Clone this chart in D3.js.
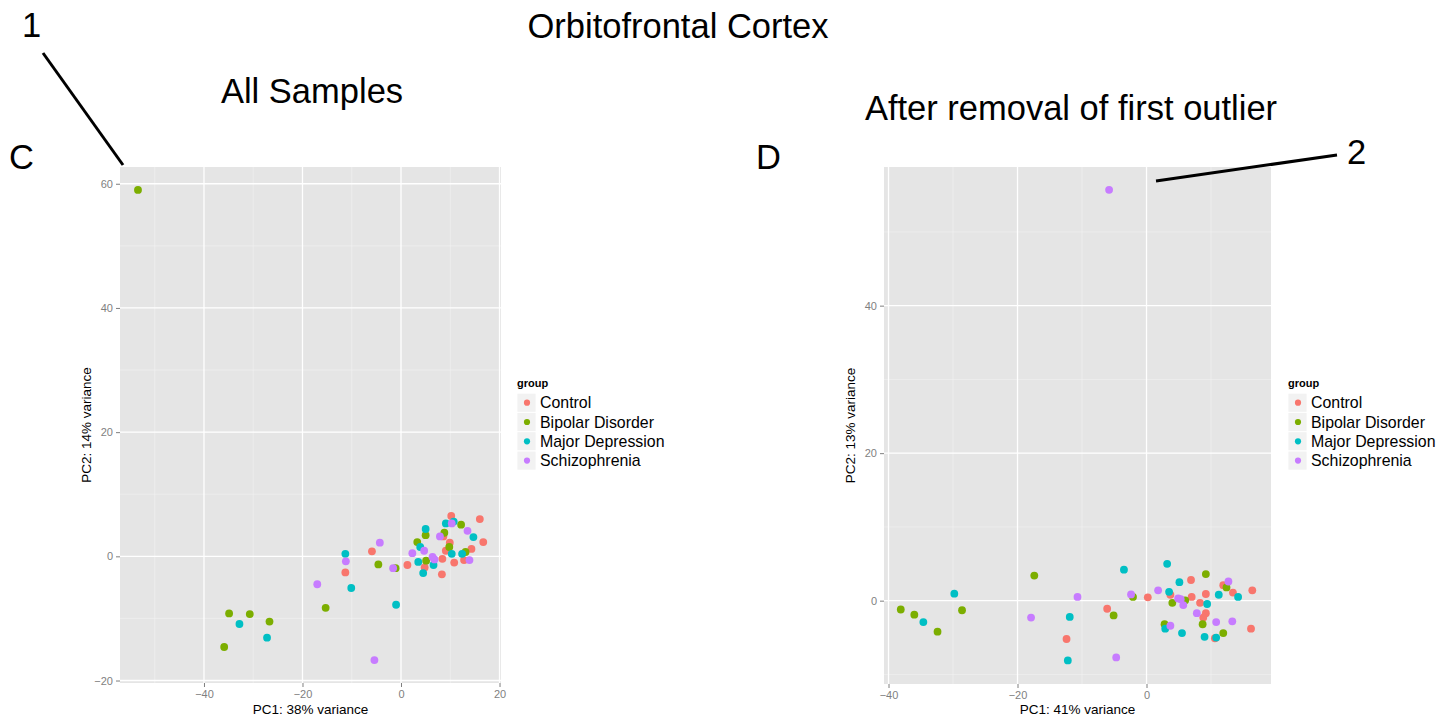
<!DOCTYPE html>
<html>
<head>
<meta charset="utf-8">
<script src="https://cdn.jsdelivr.net/npm/d3@7"></script>
<style>
  body { margin: 0; background: #fff; }
  svg { display: block; font-family: "Liberation Sans", Arial, Helvetica, sans-serif; }
  .tick text { fill: #7f7f7f; font-size: 11px; }
  .tick line { stroke: #7f7f7f; }
  .domain { display: none; }
</style>
</head>
<body>
<div id="chart"></div>
<script>
const width = 1454;
const height = 719;

const groups = ["Control", "Bipolar Disorder", "Major Depression", "Schizophrenia"];
const groupColors = ["#F8766D", "#7CAE00", "#00BFC4", "#C77CFF"];

// panel C: all samples  [PC1, PC2]
const allControl = [[-5.9, 0.8], [-11.3, -2.6], [1.3, -1.4], [4.8, -1.8], [8.4, -0.4], [8.3, -2.9], [8.6, 3.2], [9.9, 2.2], [9.1, 0.9], [10.8, -1.0], [10.2, 6.5], [16.0, 6.0], [16.7, 2.3], [14.3, 1.2], [12.8, -0.6]];
const allBipolar = [[-53.4, 59.0], [-34.9, -9.2], [-30.7, -9.3], [-26.7, -10.5], [-35.9, -14.6], [-15.3, -8.3], [-4.6, -1.3], [-1.1, -1.9], [3.3, 2.3], [5.0, 3.4], [5.1, -0.7], [8.8, 3.8], [9.8, 1.5], [12.2, 5.1], [13.1, 0.7]];
const allDepression = [[-32.8, -10.9], [-27.2, -13.1], [-10.1, -5.1], [-11.3, 0.4], [-1.0, -7.8], [3.9, 1.5], [5.0, 4.4], [3.5, -0.9], [4.5, -2.7], [6.6, -1.4], [10.3, 0.4], [9.1, 5.3], [10.7, 5.6], [14.7, 3.1], [12.4, 0.4]];
const allSchizo = [[-17.0, -4.5], [-11.2, -0.8], [-5.4, -16.7], [-4.3, 2.2], [-1.6, -1.9], [2.3, 0.5], [4.7, 0.9], [6.4, -0.1], [6.8, -0.5], [7.9, 3.2], [10.3, 5.3], [13.5, 4.1], [13.9, -0.6]];

// panel D: after removal of first outlier
const remControl = [[-12.4, -5.2], [-6.1, -1.1], [0.2, 0.45], [3.7, 0.8], [6.9, 2.8], [7.0, 0.5], [9.2, 0.9], [8.3, -0.3], [9.2, -1.7], [8.8, -2.3], [10.6, -5.1], [16.2, -3.8], [16.4, 1.4], [11.9, 2.1], [13.4, 1.1]];
const remBipolar = [[-38.1, -1.2], [-36.0, -1.9], [-32.4, -4.2], [-28.6, -1.3], [-17.4, 3.4], [-5.1, -2.0], [-2.1, 0.5], [9.2, 3.6], [4.0, -0.3], [6.0, 0.05], [8.7, -3.2], [2.8, -3.2], [11.9, -4.4], [12.4, 1.8]];
const remDepression = [[-34.6, -2.9], [-29.8, 0.95], [-11.9, -2.2], [-12.2, -8.1], [-3.5, 4.2], [3.2, 5.0], [3.5, 1.2], [5.1, 2.5], [9.4, -0.45], [2.9, -3.8], [5.5, -4.4], [9.0, -4.9], [10.8, -5.0], [11.2, 0.8], [14.2, 0.5]];
const remSchizo = [[-5.8, 55.7], [-17.9, -2.3], [-10.7, 0.5], [-4.7, -7.7], [-2.4, 0.85], [1.8, 1.4], [4.9, 0.3], [5.3, 0.2], [5.7, -0.6], [7.8, -1.7], [3.7, -3.4], [10.8, -2.9], [13.3, -2.8], [12.7, 2.6]];

const panelC = {
  series: [allControl, allBipolar, allDepression, allSchizo],
  xTicks: [-40, -20, 0, 20], xMinor: [-50, -30, -10, 10],
  yTicks: [-20, 0, 20, 40, 60], yMinor: [-10, 10, 30, 50],
  xDomain: [-57.05, 20.3], yDomain: [-20.4, 62.7],
  xLabel: "PC1: 38% variance", yLabel: "PC2: 14% variance",
  box: { left: 120, right: 501, top: 167, bottom: 683 },
  legendX: 517
};

const panelD = {
  series: [remControl, remBipolar, remDepression, remSchizo],
  xTicks: [-40, -20, 0], xMinor: [-30, -10, 10],
  yTicks: [0, 20, 40], yMinor: [-10, 10, 30, 50],
  xDomain: [-40.7, 19.3], yDomain: [-11.3, 58.8],
  xLabel: "PC1: 41% variance", yLabel: "PC2: 13% variance",
  box: { left: 884, right: 1271, top: 167, bottom: 684 },
  legendX: 1288
};

const svg = d3.select("#chart")
  .append("svg")
  .attr("width", width)
  .attr("height", height);

function drawPanel(p) {
  const { box } = p;
  const x = d3.scaleLinear().domain(p.xDomain).range([box.left, box.right]);
  const y = d3.scaleLinear().domain(p.yDomain).range([box.bottom, box.top]);
  const g = svg.append("g");

  g.append("rect")
    .attr("x", box.left).attr("y", box.top)
    .attr("width", box.right - box.left).attr("height", box.bottom - box.top)
    .attr("fill", "#e5e5e5");

  // minor grid
  g.selectAll(".vminor").data(p.xMinor).join("line")
    .attr("x1", d => x(d)).attr("x2", d => x(d))
    .attr("y1", box.top).attr("y2", box.bottom)
    .attr("stroke", "#f2f2f2").attr("stroke-width", 0.6);
  g.selectAll(".hminor").data(p.yMinor).join("line")
    .attr("y1", d => y(d)).attr("y2", d => y(d))
    .attr("x1", box.left).attr("x2", box.right)
    .attr("stroke", "#f2f2f2").attr("stroke-width", 0.6);

  // major grid
  g.selectAll(".vmajor").data(p.xTicks).join("line")
    .attr("x1", d => x(d)).attr("x2", d => x(d))
    .attr("y1", box.top).attr("y2", box.bottom)
    .attr("stroke", "#fff").attr("stroke-width", 1.3);
  g.selectAll(".hmajor").data(p.yTicks).join("line")
    .attr("y1", d => y(d)).attr("y2", d => y(d))
    .attr("x1", box.left).attr("x2", box.right)
    .attr("stroke", "#fff").attr("stroke-width", 1.3);

  const xAxis = g.append("g")
    .attr("transform", `translate(0,${box.bottom})`)
    .call(d3.axisBottom(x).tickValues(p.xTicks).tickSize(4).tickPadding(3).tickFormat(d3.format("d")));
  xAxis.selectAll("text").attr("dy", "0.71em");

  g.append("g")
    .attr("transform", `translate(${box.left},0)`)
    .call(d3.axisLeft(y).tickValues(p.yTicks).tickSize(4).tickPadding(3).tickFormat(d3.format("d")));

  g.selectAll(".tick line").attr("stroke-width", 1);

  g.append("text")
    .attr("x", (box.left + box.right) / 2).attr("y", 714)
    .attr("text-anchor", "middle").attr("font-size", 13.5)
    .text(p.xLabel);

  g.append("text")
    .attr("transform", `translate(${box.left - 29},${(box.top + box.bottom) / 2}) rotate(-90)`)
    .attr("text-anchor", "middle").attr("font-size", 13.5)
    .text(p.yLabel);

  p.series.forEach((pts, i) => {
    g.append("g").selectAll("circle").data(pts).join("circle")
      .attr("cx", d => x(d[0])).attr("cy", d => y(d[1]))
      .attr("r", 3.9)
      .attr("fill", groupColors[i]);
  });

  // legend
  const lg = g.append("g").attr("transform", `translate(${p.legendX},0)`);
  lg.append("text").attr("x", 0).attr("y", 387)
    .attr("font-size", 11).attr("font-weight", "bold").text("group");
  groups.forEach((name, i) => {
    const cy = 402.7 + i * 19.3;
    lg.append("rect").attr("x", 0).attr("y", cy - 9.5).attr("width", 19).attr("height", 19)
      .attr("fill", "#f2f2f2").attr("stroke", "#fff").attr("stroke-width", 0.8);
    lg.append("circle").attr("cx", 10).attr("cy", cy).attr("r", 3.1).attr("fill", groupColors[i]);
    lg.append("text").attr("x", 23).attr("y", cy + 5.6).attr("font-size", 15.9).text(name);
  });
}

drawPanel(panelC);
drawPanel(panelD);

// titles and annotations
const big = 34.5;
svg.append("text").attr("x", 678).attr("y", 38).attr("text-anchor", "middle").attr("font-size", big).text("Orbitofrontal Cortex");
svg.append("text").attr("x", 312).attr("y", 103).attr("text-anchor", "middle").attr("font-size", big).text("All Samples");
svg.append("text").attr("x", 1071).attr("y", 120).attr("text-anchor", "middle").attr("font-size", big).text("After removal of first outlier");
svg.append("text").attr("x", 9).attr("y", 169).attr("font-size", big).text("C");
svg.append("text").attr("x", 756).attr("y", 169).attr("font-size", big).text("D");
svg.append("text").attr("x", 22).attr("y", 37).attr("font-size", big).text("1");
svg.append("text").attr("x", 1347).attr("y", 164).attr("font-size", big).text("2");

svg.append("line").attr("x1", 43).attr("y1", 53).attr("x2", 123).attr("y2", 165)
  .attr("stroke", "#000").attr("stroke-width", 3);
svg.append("line").attr("x1", 1156).attr("y1", 181).attr("x2", 1337).attr("y2", 155)
  .attr("stroke", "#000").attr("stroke-width", 3);
</script>
</body>
</html>
